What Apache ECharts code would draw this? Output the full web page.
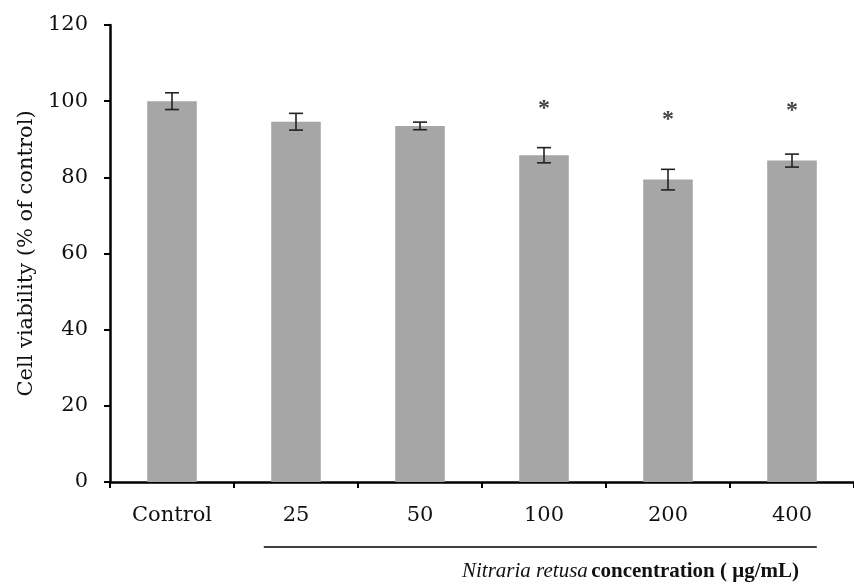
<!DOCTYPE html>
<html>
<head>
<meta charset="utf-8">
<script src="https://cdn.jsdelivr.net/npm/echarts@6/dist/echarts.min.js"></script>
<style>
  html, body { margin: 0; padding: 0; background: #ffffff; }
  #chart { width: 854px; height: 587px; }
</style>
</head>
<body>
<div id="chart"></div>
<script>
// Cell viability after treatment with Nitraria retusa extract
const categories = ['Control', '25', '50', '100', '200', '400'];
const viability  = [100, 94.6, 93.5, 85.8, 79.4, 84.4];   // mean, % of control
const errors     = [2.2, 2.2, 1.0, 2.0, 2.7, 1.7];        // +/- error
const starLevels = [null, null, null, 98, 95, 97.6];      // height of significance marks
const yMin = 0, yMax = 120, yStep = 20;

const tickFont = 'DejaVu Serif';
const textFont = 'Liberation Serif';

const chart = echarts.init(document.getElementById('chart'), null, { renderer: 'canvas' });

const errorData = viability.map((v, i) => [i, v - errors[i], v + errors[i]]);
const starData = starLevels
  .map((s, i) => (s === null ? null : [i, s]))
  .filter(d => d !== null);

chart.setOption({
  animation: false,
  backgroundColor: '#ffffff',
  grid: { left: 110, right: -7, top: 25, bottom: 105, containLabel: false },
  xAxis: {
    type: 'category',
    data: categories,
    boundaryGap: true,
    axisLine: { show: true, lineStyle: { color: '#000', width: 2.5 } },
    axisTick: { show: true, length: 6, lineStyle: { color: '#000', width: 2 } },
    axisLabel: { fontFamily: tickFont, fontSize: 21, color: '#111', margin: 23 },
    splitLine: { show: false }
  },
  yAxis: {
    type: 'value',
    min: yMin,
    max: yMax,
    interval: yStep,
    name: 'Cell viability (% of control)',
    nameLocation: 'middle',
    nameRotate: 90,
    nameGap: 73,
    nameTextStyle: { fontFamily: tickFont, fontSize: 21, color: '#111' },
    axisLine: { show: true, lineStyle: { color: '#000', width: 2.5 } },
    axisTick: { show: true, length: 6, lineStyle: { color: '#000', width: 2 } },
    axisLabel: { fontFamily: tickFont, fontSize: 21, color: '#111', margin: 22 },
    splitLine: { show: false }
  },
  series: [
    {
      type: 'bar',
      data: viability,
      barWidth: '40%',
      itemStyle: { color: '#a6a6a6' },
      z: 2
    },
    {
      type: 'custom',
      data: errorData,
      z: 5,
      renderItem: function (params, api) {
        const x = api.value(0);
        const lo = api.coord([x, api.value(1)]);
        const hi = api.coord([x, api.value(2)]);
        const hw = 7;
        const st = { stroke: '#222', lineWidth: 1.6 };
        return {
          type: 'group',
          children: [
            { type: 'line', shape: { x1: hi[0], y1: hi[1], x2: lo[0], y2: lo[1] }, style: st },
            { type: 'line', shape: { x1: hi[0] - hw, y1: hi[1], x2: hi[0] + hw, y2: hi[1] }, style: st },
            { type: 'line', shape: { x1: lo[0] - hw, y1: lo[1], x2: lo[0] + hw, y2: lo[1] }, style: st }
          ]
        };
      }
    },
    {
      type: 'scatter',
      data: starData,
      symbolSize: 0,
      z: 6,
      label: {
        show: true,
        position: 'inside',
        formatter: '*',
        fontFamily: textFont,
        fontSize: 24,
        fontWeight: 'bold',
        color: '#111'
      }
    }
  ]
});

// Group bracket under the treated concentrations and the axis caption
function drawAnnotations() {
  const c25 = chart.convertToPixel({ xAxisIndex: 0 }, '25');
  const c50 = chart.convertToPixel({ xAxisIndex: 0 }, '50');
  const c400 = chart.convertToPixel({ xAxisIndex: 0 }, '400');
  const band = c50 - c25;
  const lineY = chart.convertToPixel({ yAxisIndex: 0 }, yMin) + 65;
  chart.setOption({
    graphic: [
      {
        type: 'line',
        shape: { x1: c25 - 0.26 * band, y1: lineY, x2: c400 + 0.2 * band, y2: lineY },
        style: { stroke: '#000', lineWidth: 1.6 }
      },
      {
        type: 'text',
        left: 462,
        top: 561,
        style: {
          text: '{it|Nitraria retusa} {b|concentration ( μg/mL)}',
          rich: {
            it: { fontFamily: textFont, fontStyle: 'italic', fontSize: 21, fill: '#111' },
            b: { fontFamily: textFont, fontWeight: 'bold', fontSize: 21, fill: '#111' }
          }
        }
      }
    ]
  });
}
drawAnnotations();
</script>
</body>
</html>
